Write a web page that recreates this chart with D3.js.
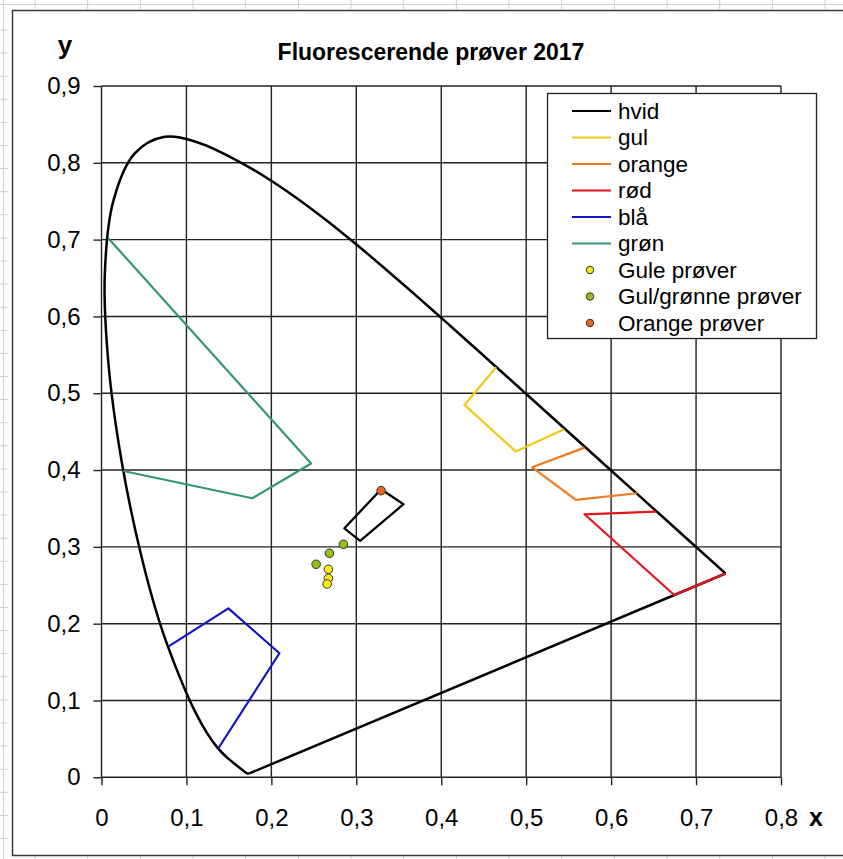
<!DOCTYPE html>
<html>
<head>
<meta charset="utf-8">
<script src="https://cdn.jsdelivr.net/npm/d3@7"></script>
<style>
  html, body { margin: 0; padding: 0; background: #fff; }
  svg { display: block; font-family: "Liberation Sans", Arial, sans-serif; }
</style>
</head>
<body>
<svg id="chart" width="843" height="859"></svg>
<script>
// ---------------- DATA ----------------
const title = "Fluorescerende prøver 2017";
const xTicks = [0, 0.1, 0.2, 0.3, 0.4, 0.5, 0.6, 0.7, 0.8];
const yTicks = [0, 0.1, 0.2, 0.3, 0.4, 0.5, 0.6, 0.7, 0.8, 0.9];
const xTickLabels = ["0", "0,1", "0,2", "0,3", "0,4", "0,5", "0,6", "0,7", "0,8"];
const yTickLabels = ["0", "0,1", "0,2", "0,3", "0,4", "0,5", "0,6", "0,7", "0,8", "0,9"];

// spectral locus (CIE 1931, 380-700 nm)
const locusX = [0.1741,0.1740,0.1738,0.1736,0.1733,0.1730,0.1726,0.1721,0.1714,0.1703,0.1689,0.1669,0.1644,0.1611,0.1566,0.1510,0.1440,0.1355,0.1241,0.1096,0.0913,0.0687,0.0454,0.0235,0.0082,0.0039,0.0139,0.0389,0.0743,0.1142,0.1547,0.1929,0.2296,0.2658,0.3016,0.3373,0.3731,0.4087,0.4441,0.4788,0.5125,0.5448,0.5752,0.6029,0.6270,0.6482,0.6658,0.6801,0.6915,0.7006,0.7079,0.7140,0.7190,0.7230,0.7260,0.7283,0.7300,0.7311,0.7320,0.7334,0.7344,0.7347];
const locusY = [0.0050,0.0050,0.0049,0.0049,0.0048,0.0048,0.0048,0.0048,0.0051,0.0058,0.0069,0.0086,0.0109,0.0138,0.0177,0.0227,0.0297,0.0399,0.0578,0.0868,0.1327,0.2007,0.2950,0.4127,0.5384,0.6548,0.7502,0.8120,0.8338,0.8262,0.8059,0.7816,0.7543,0.7243,0.6923,0.6589,0.6245,0.5896,0.5547,0.5202,0.4866,0.4544,0.4242,0.3965,0.3725,0.3514,0.3340,0.3197,0.3083,0.2993,0.2920,0.2859,0.2809,0.2770,0.2740,0.2717,0.2700,0.2689,0.2680,0.2666,0.2656,0.2653];
// purple line closing the locus
const purpleX = [0.7347, 0.1741];
const purpleY = [0.2653, 0.0050];

// colour regions
const hvidX  = [0.3292, 0.3555, 0.3045, 0.2860, 0.3292];
const hvidY  = [0.3750, 0.3555, 0.3077, 0.3242, 0.3750];
const gulX   = [0.4647, 0.4273, 0.4878, 0.5448];
const gulY   = [0.5339, 0.4848, 0.4240, 0.4531];
const orangeX = [0.5687, 0.5071, 0.5585, 0.6304];
const orangeY = [0.4292, 0.4036, 0.3611, 0.3698];
const rodX   = [0.6531, 0.5687, 0.6743, 0.7347];
const rodY   = [0.3458, 0.3424, 0.2374, 0.2653];
const blaX   = [0.0795, 0.1494, 0.2095, 0.1376];
const blaY   = [0.1707, 0.2200, 0.1615, 0.0378];
const gronX  = [0.0080, 0.2468, 0.1776, 0.0257];
const gronY  = [0.7018, 0.4085, 0.3633, 0.3988];

// samples
const guleX = [0.2671, 0.2671, 0.2656];
const guleY = [0.2708, 0.2591, 0.2517];
const gulGronX = [0.2848, 0.2683, 0.2527];
const gulGronY = [0.3034, 0.2917, 0.2773];
const orangeProvX = [0.3292];
const orangeProvY = [0.3732];

const lineSeries = [
  { name: "hvid",   xs: hvidX,   ys: hvidY,   color: "#000000" },
  { name: "gul",    xs: gulX,    ys: gulY,    color: "#f0c91c" },
  { name: "orange", xs: orangeX, ys: orangeY, color: "#f07a1e" },
  { name: "rød",    xs: rodX,    ys: rodY,    color: "#e3171b" },
  { name: "blå",    xs: blaX,    ys: blaY,    color: "#1212c8" },
  { name: "grøn",   xs: gronX,   ys: gronY,   color: "#349676" }
];
const pointSeries = [
  { name: "Gule prøver",       xs: guleX,       ys: guleY,       color: "#fbeb12" },
  { name: "Gul/grønne prøver", xs: gulGronX,    ys: gulGronY,    color: "#94bf16" },
  { name: "Orange prøver",     xs: orangeProvX, ys: orangeProvY, color: "#ec6420" }
];

// ---------------- DRAW ----------------
const svg = d3.select("#chart");
const W = 843, H = 859;

// spreadsheet background marks
const sheet = svg.append("g").attr("stroke", "#cfcfcf").attr("stroke-width", 1);
sheet.append("line").attr("x1", 0).attr("x2", W).attr("y1", 4.5).attr("y2", 4.5);
sheet.append("line").attr("x1", 3.5).attr("x2", 3.5).attr("y1", 0).attr("y2", H);
d3.range(0, 16).forEach(i => {
  const xx = 35 + i * 52.67;
  sheet.append("line").attr("x1", xx).attr("x2", xx).attr("y1", 0).attr("y2", 9);
  sheet.append("line").attr("x1", xx).attr("x2", xx).attr("y1", 856).attr("y2", H);
});
d3.range(0, 37).forEach(i => {
  const yy = 30 + i * 23.1;
  sheet.append("line").attr("x1", 0).attr("x2", 8).attr("y1", yy).attr("y2", yy);
});

// chart frame
svg.append("rect").attr("x", 12.5).attr("y", 10.5).attr("width", 845).attr("height", 845)
  .attr("fill", "#fff").attr("stroke", "#3a3a3a").attr("stroke-width", 1.5);

const x = d3.scaleLinear().domain([0, 0.8]).range([101.5, 781]);
const y = d3.scaleLinear().domain([0, 0.9]).range([777.3, 86]);

// gridlines
const grid = svg.append("g").attr("stroke", "#222").attr("stroke-width", 1.4);
xTicks.forEach(v => grid.append("line").attr("x1", x(v)).attr("x2", x(v)).attr("y1", y(0)).attr("y2", y(0.9)));
yTicks.forEach(v => grid.append("line").attr("x1", x(0)).attr("x2", x(0.8)).attr("y1", y(v)).attr("y2", y(v)));

// axes
const xAxis = d3.axisBottom(x).tickValues(xTicks).tickSize(8).tickPadding(24)
  .tickFormat((d, i) => xTickLabels[i]);
const yAxis = d3.axisLeft(y).tickValues(yTicks).tickSize(8).tickPadding(13)
  .tickFormat((d, i) => yTickLabels[i]);
const gx = svg.append("g").attr("transform", `translate(0,${y(0)})`).call(xAxis);
const gy = svg.append("g").attr("transform", `translate(${x(0)},0)`).call(yAxis);
[gx, gy].forEach(g => {
  g.select(".domain").remove();
  g.selectAll(".tick line").attr("stroke", "#222").attr("stroke-width", 1.4);
  g.selectAll(".tick text").attr("fill", "#000").style("font-size", "24px")
    .style("font-family", "'Liberation Sans', Arial, sans-serif");
});

// axis titles and chart title
svg.append("text").attr("x", 816).attr("y", 826).attr("text-anchor", "middle")
  .style("font-size", "25px").style("font-weight", "bold").text("x");
svg.append("text").attr("x", 65).attr("y", 54).attr("text-anchor", "middle")
  .style("font-size", "26px").style("font-weight", "bold").text("y");
svg.append("text").attr("x", 431).attr("y", 60).attr("text-anchor", "middle")
  .style("font-size", "23px").style("font-weight", "bold").text(title);

const line = d3.line().x(d => x(d[0])).y(d => y(d[1]));
const smooth = d3.line().x(d => x(d[0])).y(d => y(d[1])).curve(d3.curveCatmullRom.alpha(0.5));
const zip = (xs, ys) => xs.map((v, i) => [v, ys[i]]);

// spectral locus and purple line
svg.append("path").datum(zip(locusX, locusY)).attr("d", smooth)
  .attr("fill", "none").attr("stroke", "#000").attr("stroke-width", 2.5)
  .attr("stroke-linejoin", "round");
svg.append("path").datum(zip(purpleX, purpleY)).attr("d", line)
  .attr("fill", "none").attr("stroke", "#000").attr("stroke-width", 2.5);

// colour regions (drawn on top of the locus)
lineSeries.forEach(s => {
  svg.append("path").datum(zip(s.xs, s.ys)).attr("d", line)
    .attr("fill", "none").attr("stroke", s.color)
    .attr("stroke-width", s.name === "hvid" ? 2.3 : 2.2)
    .attr("stroke-linejoin", "round");
});

// sample points
pointSeries.forEach(s => {
  svg.append("g").selectAll("circle").data(zip(s.xs, s.ys)).join("circle")
    .attr("cx", d => x(d[0])).attr("cy", d => y(d[1])).attr("r", 4.3)
    .attr("fill", s.color).attr("stroke", "#333").attr("stroke-width", 1);
});

// legend
const lg = svg.append("g");
lg.append("rect").attr("x", 547.5).attr("y", 93.5).attr("width", 269).attr("height", 245)
  .attr("fill", "#fff").attr("stroke", "#222").attr("stroke-width", 1.3);
const rowY = i => 111 + i * 26.5;
lineSeries.forEach((s, i) => {
  lg.append("line").attr("x1", 572).attr("x2", 611).attr("y1", rowY(i)).attr("y2", rowY(i))
    .attr("stroke", s.color).attr("stroke-width", 2.2);
  lg.append("text").attr("x", 618).attr("y", rowY(i)).attr("dy", "0.35em")
    .style("font-size", "22.5px").text(s.name);
});
pointSeries.forEach((s, j) => {
  const i = lineSeries.length + j;
  lg.append("circle").attr("cx", 590).attr("cy", rowY(i)).attr("r", 3.7)
    .attr("fill", s.color).attr("stroke", "#333").attr("stroke-width", 1);
  lg.append("text").attr("x", 618).attr("y", rowY(i)).attr("dy", "0.35em")
    .style("font-size", "22.5px").text(s.name);
});
</script>
</body>
</html>
